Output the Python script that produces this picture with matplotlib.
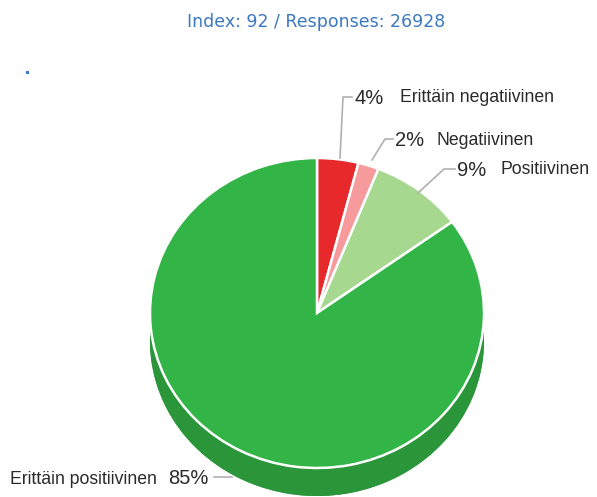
import matplotlib
matplotlib.use("Agg")
import matplotlib.pyplot as plt
import numpy as np

# ---- data ----
categories = ["Erittäin negatiivinen", "Negatiivinen", "Positiivinen", "Erittäin positiivinen"]
values = [4, 2, 9, 85]
pct_labels = ["4%", "2%", "9%", "85%"]
title_text = "Index: 92 / Responses: 26928"

top_colors = ["#e8292c", "#f69a9c", "#a6d88f", "#33b447"]
side_colors = ["#b81d20", "#c87476", "#7fae6b", "#2a9639"]

W, H = 597, 497
fig = plt.figure(figsize=(W / 100, H / 100), dpi=100)
ax = fig.add_axes([0, 0, 1, 1])

# pixel geometry of the pie
cx, cy, rx, ry, depth = 317, 313, 167, 155, 28

def P(x, y):
    return (x - cx) / rx, (cy - y) / ry

dz = depth / ry

# bottom face (depth)
ax.pie(values, colors=side_colors, startangle=90, counterclock=False,
       center=(0, -dz), radius=1, wedgeprops=dict(linewidth=0))
# side wall: lower half band
t = np.linspace(np.pi, 2 * np.pi, 200)
xs = np.concatenate([np.cos(t), np.cos(t[::-1])])
ys = np.concatenate([np.sin(t), np.sin(t[::-1]) - dz])
ax.fill(xs, ys, color=side_colors[3], lw=0, zorder=1)
# top face
wedges, _ = ax.pie(values, colors=top_colors, startangle=90, counterclock=False,
                   center=(0, 0), radius=1,
                   wedgeprops=dict(edgecolor="white", linewidth=1.8))
for w in wedges:
    w.set_zorder(3)

ax.set_aspect("auto")
ax.set_xlim(-cx / rx, (W - cx) / rx)
ax.set_ylim(-(H - cy) / ry, cy / ry)
ax.axis("off")

# leader lines (pixel coordinates)
lc = "#b0b0b0"
leaders = [
    [(340, 158), (343, 97), (352, 97)],
    [(372, 160), (385, 139), (393, 139)],
    [(418, 193), (444, 169), (455, 169)],
    [(232, 477), (214, 477)],
]
for pts in leaders:
    xy = [P(*p) for p in pts]
    ax.plot([q[0] for q in xy], [q[1] for q in xy], color=lc, lw=1.2, zorder=4)

fam = ["Liberation Sans", "DejaVu Sans"]
tc = "#2a2a2a"
def ftext(x, y, s, **kw):
    fig.text(x / W, 1 - y / H, s, color=tc, family=fam, va="center", **kw)

# labels
lf, pf = 12.7, 14.5
ftext(355, 98, pct_labels[0], fontsize=pf)
ftext(400, 98, categories[0], fontsize=lf)
ftext(395, 140, pct_labels[1], fontsize=pf)
ftext(437, 140, categories[1], fontsize=lf)
ftext(457, 170, pct_labels[2], fontsize=pf)
ftext(500, 170, categories[2], fontsize=lf)
ftext(10, 479, categories[3], fontsize=lf)
ftext(168, 479, pct_labels[3], fontsize=pf)

# title
fig.text(316 / W, 1 - 22 / H, title_text, color="#3b78c0", fontsize=12.5,
         family=["Liberation Sans Narrow", "DejaVu Sans"], ha="center", va="center")
# small stray dot
fig.text(27 / W, 1 - 69 / H, ".", color="#3b78c0", fontsize=13, fontweight="bold",
         ha="center", va="center")

fig.savefig("out.png", dpi=100)
